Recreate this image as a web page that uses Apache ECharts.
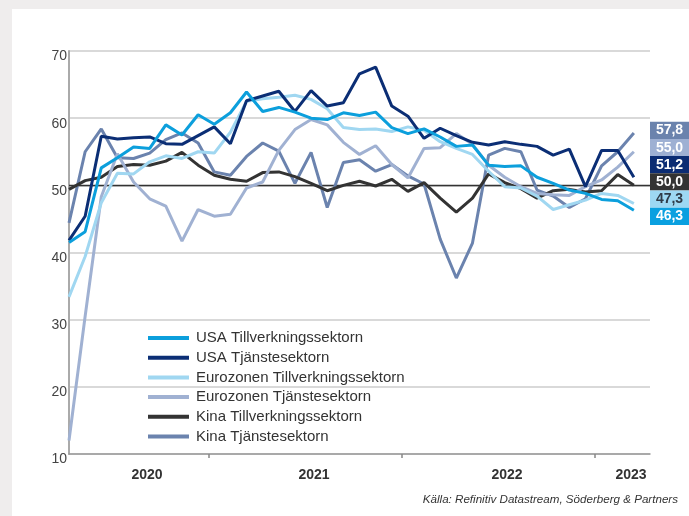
<!DOCTYPE html>
<html>
<head>
<meta charset="utf-8">
<script src="https://cdn.jsdelivr.net/npm/echarts@6/dist/echarts.min.js"></script>
<style>
  html, body { margin: 0; padding: 0; background: #fff; }
  #main { width: 689px; height: 516px; }
</style>
</head>
<body>
<div id="main"></div>
<script>
// månadsdata apr 2020 - mar 2023 (x = månadsindex)
const months = [];
for (let i = 0; i < 36; i++) {
  const y = 2020 + Math.floor((3 + i) / 12);
  const m = (3 + i) % 12 + 1;
  months.push(y + '-' + String(m).padStart(2, '0'));
}

const usaMfg = [41.5, 43.1, 52.6, 54.1, 55.7, 55.5, 59.0, 57.5, 60.5, 59.1, 60.8, 63.9, 61.0, 61.6, 60.9, 60.0, 59.8, 60.8, 60.4, 60.9, 58.6, 57.7, 58.4, 57.2, 55.8, 56.0, 53.0, 52.8, 52.9, 51.2, 50.3, 49.3, 48.8, 47.9, 47.7, 46.3];
const usaSvc = [41.8, 45.4, 57.3, 56.9, 57.1, 57.2, 56.2, 56.1, 57.4, 58.7, 56.2, 62.6, 63.3, 64.0, 61.0, 64.1, 61.8, 62.3, 66.6, 67.6, 61.8, 60.3, 57.0, 58.5, 57.4, 56.4, 56.0, 56.5, 56.1, 55.8, 54.5, 55.4, 49.8, 55.2, 55.2, 51.2];
const euMfg = [33.4, 39.4, 47.4, 51.8, 51.7, 53.5, 54.4, 54.0, 55.0, 54.8, 57.9, 62.5, 62.9, 63.1, 63.4, 62.8, 61.4, 58.6, 58.3, 58.4, 58.0, 58.7, 58.2, 56.5, 55.5, 54.6, 52.1, 49.8, 49.6, 48.4, 46.4, 47.1, 47.8, 48.8, 48.5, 47.3];
const euSvc = [12.0, 30.5, 48.3, 54.7, 50.5, 48.0, 46.9, 41.7, 46.4, 45.4, 45.7, 49.6, 50.5, 55.2, 58.3, 59.8, 59.0, 56.4, 54.6, 55.9, 53.1, 51.1, 55.5, 55.6, 57.7, 56.1, 53.0, 51.2, 49.8, 48.8, 48.6, 48.5, 49.8, 50.8, 52.7, 55.0];
const cnMfg = [49.4, 50.7, 51.2, 52.8, 53.1, 53.0, 53.6, 54.9, 53.0, 51.5, 50.9, 50.6, 51.9, 52.0, 51.3, 50.3, 49.2, 50.0, 50.6, 49.9, 50.9, 49.1, 50.4, 48.1, 46.0, 48.1, 51.7, 50.4, 49.5, 48.1, 49.2, 49.4, 49.0, 49.2, 51.6, 50.0];
const cnSvc = [44.4, 55.0, 58.4, 54.1, 54.0, 54.8, 56.8, 57.8, 56.3, 52.0, 51.5, 54.3, 56.3, 55.1, 50.3, 54.9, 46.7, 53.4, 53.8, 52.1, 53.1, 51.4, 50.2, 42.0, 36.2, 41.4, 54.5, 55.5, 55.0, 49.3, 48.4, 46.7, 48.0, 52.9, 55.0, 57.8];

const seriesNames = ['USA Tillverkningssektorn', 'USA Tjänstesektorn', 'Eurozonen Tillverkningssektorn', 'Eurozonen Tjänstesektorn', 'Kina Tillverkningssektorn', 'Kina Tjänstesektorn'];
const seriesData = [usaMfg, usaSvc, euMfg, euSvc, cnMfg, cnSvc];
const seriesColors = ['#0c9fdc', '#0b2e75', '#a0d7f1', '#a0b1d2', '#333333', '#6b83ae'];

const yTicks = [10, 20, 30, 40, 50, 60, 70];
const yearLabels = ['2020', '2021', '2022', '2023'];
const yearLabelPos = [4.83, 15.18, 27.14, 34.82];
const yearTickPos = [8.67, 20.63, 32.59];

const FONT = 'Liberation Sans';

let chart = echarts.init(document.getElementById('main'));

const series = seriesNames.map(function (name, i) {
  const s = {
    name: name,
    type: 'line',
    symbol: 'none',
    data: months.map((d, k) => [k, seriesData[i][k]]),
    lineStyle: { width: 3, color: seriesColors[i] },
    itemStyle: { color: seriesColors[i] },
    z: 10 - i
  };
  if (i === 0) {
    s.markLine = {
      silent: true,
      symbol: 'none',
      label: { show: false },
      lineStyle: { color: '#333', width: 1.3, type: 'solid' },
      data: [{ yAxis: 50 }]
    };
  }
  return s;
});

// värderutor till höger, sorterade efter senaste värde
const lastVals = seriesData.map((arr, i) => ({ v: arr[arr.length - 1], i: i }))
  .sort((a, b) => b.v - a.v);
const boxColors = ['#0aa0e0', '#0b2c73', '#9dd8f3', '#9eb0d3', '#333333', '#6b83ad'];
const boxes = lastVals.map(function (o, k) {
  return {
    type: 'group',
    left: 650,
    top: 121.7 + k * 17.2,
    children: [
      { type: 'rect', shape: { x: 0, y: 0, width: 39, height: 17.2 }, style: { fill: boxColors[o.i] } },
      {
        type: 'text', x: 19.5, y: 8.8,
        style: {
          text: o.v.toFixed(1).replace('.', ','),
          fill: o.i === 2 ? '#2f3b48' : '#ffffff',
          font: 'bold 14px "' + FONT + '"',
          align: 'center', verticalAlign: 'middle'
        }
      }
    ]
  };
});

let option = {
  animation: false,
  color: seriesColors,
  grid: { left: 69, right: 39, top: 51, bottom: 62 },
  legend: {
    orient: 'vertical',
    left: 148,
    top: 324,
    padding: 0,
    itemGap: -8.3,
    itemWidth: 41,
    itemHeight: 4,
    icon: 'rect',
    data: seriesNames,
    textStyle: { fontFamily: FONT, fontSize: 15, color: '#333', lineHeight: 17, padding: [11, 0, 0, 2] }
  },
  xAxis: {
    type: 'value',
    min: 0,
    max: 36,
    axisLine: { lineStyle: { color: '#999', width: 1.5 } },
    axisTick: { show: true, customValues: yearTickPos, length: 4, lineStyle: { color: '#888', width: 1.5 } },
    axisLabel: {
      customValues: yearLabelPos,
      formatter: function (v) {
        let k = 0;
        yearLabelPos.forEach((p, j) => { if (Math.abs(p - v) < Math.abs(yearLabelPos[k] - v)) k = j; });
        return yearLabels[k];
      },
      fontFamily: FONT, fontSize: 14, fontWeight: 'bold', color: '#333', margin: 14
    },
    splitLine: { show: false }
  },
  yAxis: {
    type: 'value',
    min: yTicks[0],
    max: yTicks[yTicks.length - 1],
    interval: 10,
    axisLine: { show: true, lineStyle: { color: '#aaa', width: 2 } },
    axisTick: { show: false },
    axisLabel: { fontFamily: FONT, fontSize: 14, color: '#444', margin: 2, verticalAlign: 'top', lineHeight: 11 },
    splitLine: { lineStyle: { color: '#cccccc', width: 1.5 } }
  },
  graphic: [
    { type: 'rect', left: 0, top: 0, shape: { width: 689, height: 9 }, style: { fill: '#efeded' }, silent: true },
    { type: 'rect', left: 0, top: 0, shape: { width: 12, height: 516 }, style: { fill: '#efeded' }, silent: true },
    {
      type: 'text', right: 11, top: 494,
      style: {
        text: 'Källa: Refinitiv Datastream, Söderberg & Partners',
        fill: '#333', font: 'italic 11.6px "' + FONT + '"'
      }
    }
  ].concat(boxes),
  series: series
};

option && chart.setOption(option);
</script>
</body>
</html>
